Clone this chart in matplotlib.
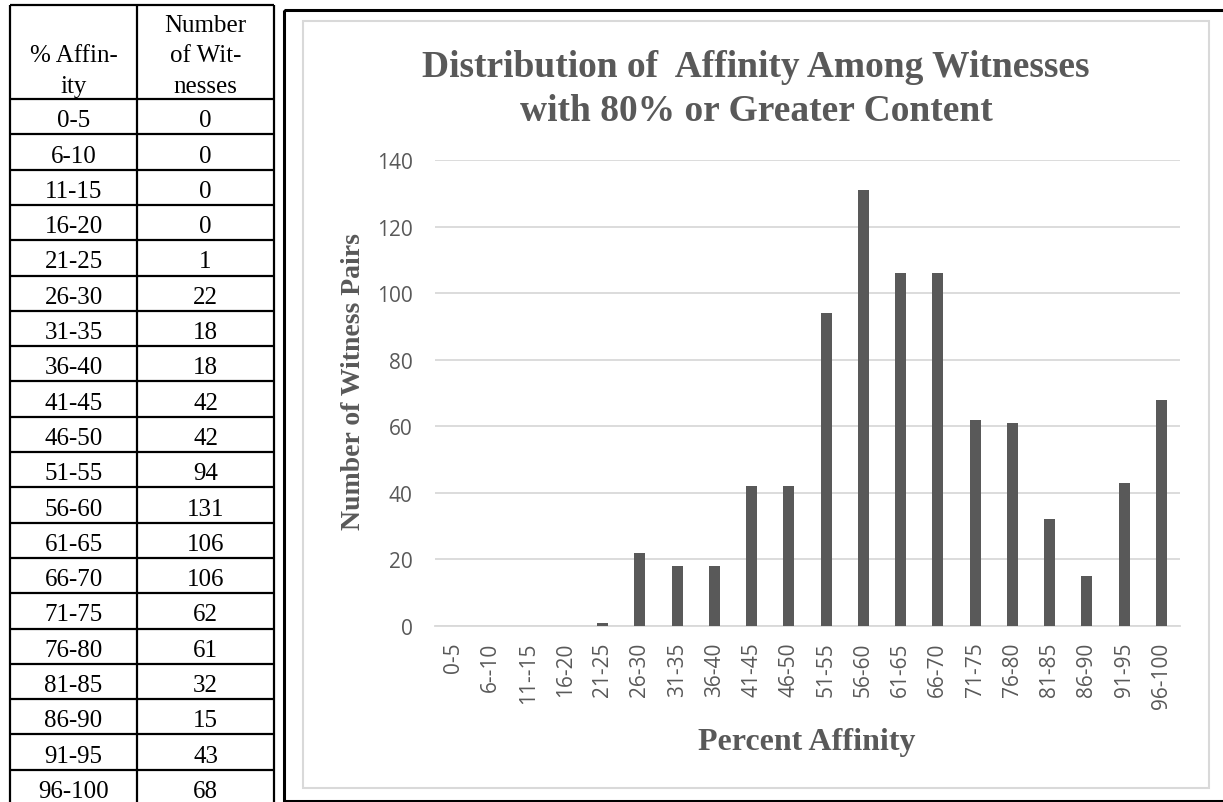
import matplotlib
matplotlib.use("Agg")
import matplotlib.pyplot as plt
from matplotlib.patches import Rectangle

# affinity bins and witness-pair counts
table_bins = ["0-5", "6-10", "11-15", "16-20", "21-25", "26-30", "31-35", "36-40",
              "41-45", "46-50", "51-55", "56-60", "61-65", "66-70", "71-75", "76-80",
              "81-85", "86-90", "91-95", "96-100"]
chart_bins = ["0-5", "6--10", "11--15", "16-20", "21-25", "26-30", "31-35", "36-40",
              "41-45", "46-50", "51-55", "56-60", "61-65", "66-70", "71-75", "76-80",
              "81-85", "86-90", "91-95", "96-100"]
counts = [0, 0, 0, 0, 1, 22, 18, 18, 42, 42, 94, 131, 106, 106, 62, 61, 32, 15, 43, 68]
y_ticks = [0, 20, 40, 60, 80, 100, 120, 140]

W, H = 1223, 803
GRAY = "#595959"
LIGHT = "#d9d9d9"
SERIF = "Liberation Serif"
SANS = "Open Sans"

fig = plt.figure(figsize=(W / 100, H / 100), dpi=100)

# full-figure overlay in pixel units for the table and frames
bg = fig.add_axes([0, 0, 1, 1])
bg.set_xlim(0, W)
bg.set_ylim(H, 0)
bg.axis("off")

# --- table on the left ---
x0, x1, x2 = 10, 137, 274
top, head_bot, row_h = 6, 100, 35.3
n = len(table_bins)
bottom = head_bot + row_h * n
lw = 1.6
for x in (x0, x1, x2):
    bg.plot([x, x], [top, bottom], color="black", lw=lw, solid_capstyle="butt")
for y in [top, head_bot] + [head_bot + row_h * (i + 1) for i in range(n)]:
    bg.plot([x0, x2], [y, y], color="black", lw=lw, solid_capstyle="butt")

c1, c2 = (x0 + x1) / 2, (x1 + x2) / 2
for txt, y in [("% Affin-", 62.5), ("ity", 93)]:
    bg.text(c1, y, txt, ha="center", va="baseline", family=SERIF, fontsize=18)
for txt, y in [("Number", 32), ("of Wit-", 62.5), ("nesses", 93)]:
    bg.text(c2, y, txt, ha="center", va="baseline", family=SERIF, fontsize=18)
for i, (b, c) in enumerate(zip(table_bins, counts)):
    yb = head_bot + row_h * (i + 1) - 8
    bg.text(c1, yb, b, ha="center", va="baseline", family=SERIF, fontsize=18)
    bg.text(c2, yb, str(c), ha="center", va="baseline", family=SERIF, fontsize=18)

# --- chart frames ---
bg.add_patch(Rectangle((283.5, 11), 1000, 791, fill=False, ec="black", lw=2.2))
bg.add_patch(Rectangle((303, 22), 906, 767, fill=False, ec=LIGHT, lw=1.5))

# --- bar chart ---
ax_l, ax_r, ax_t, ax_b = 435, 1180, 161, 627
ax = fig.add_axes([ax_l / W, 1 - ax_b / H, (ax_r - ax_l) / W, (ax_b - ax_t) / H])
xs = range(len(counts))
ax.bar(xs, counts, width=0.3, color=GRAY, zorder=3)
ax.set_xlim(-0.5, len(counts) - 0.5)
ax.set_ylim(0, 140)
ax.set_yticks(y_ticks)
ax.set_xticks(list(xs))
ax.set_xticklabels(chart_bins, rotation=90)
ax.grid(axis="y", color=LIGHT, lw=1.3, zorder=0)
for s in ("top", "right", "left"):
    ax.spines[s].set_visible(False)
ax.spines["bottom"].set_color(LIGHT)
ax.spines["bottom"].set_linewidth(1.3)
ax.tick_params(axis="both", length=0, labelcolor=GRAY, labelsize=15)
ax.tick_params(axis="y", pad=16)
ax.tick_params(axis="x", pad=11)
for lab in ax.get_xticklabels() + ax.get_yticklabels():
    lab.set_family(SANS)
ax.patch.set_alpha(0)

# titles and axis labels
bg.text(756, 77, "Distribution of  Affinity Among Witnesses", ha="center", va="baseline",
        family=SERIF, fontweight="bold", fontsize=27, color=GRAY)
bg.text(756, 121, "with 80% or Greater Content", ha="center", va="baseline",
        family=SERIF, fontweight="bold", fontsize=27, color=GRAY)
bg.text(807, 750, "Percent Affinity", ha="center", va="baseline",
        family=SERIF, fontweight="bold", fontsize=23, color=GRAY)
bg.text(354, 382, "Number of Witness Pairs", ha="center", va="center", rotation=90,
        family=SERIF, fontweight="bold", fontsize=20, color=GRAY)

fig.savefig("out.png", dpi=100)
